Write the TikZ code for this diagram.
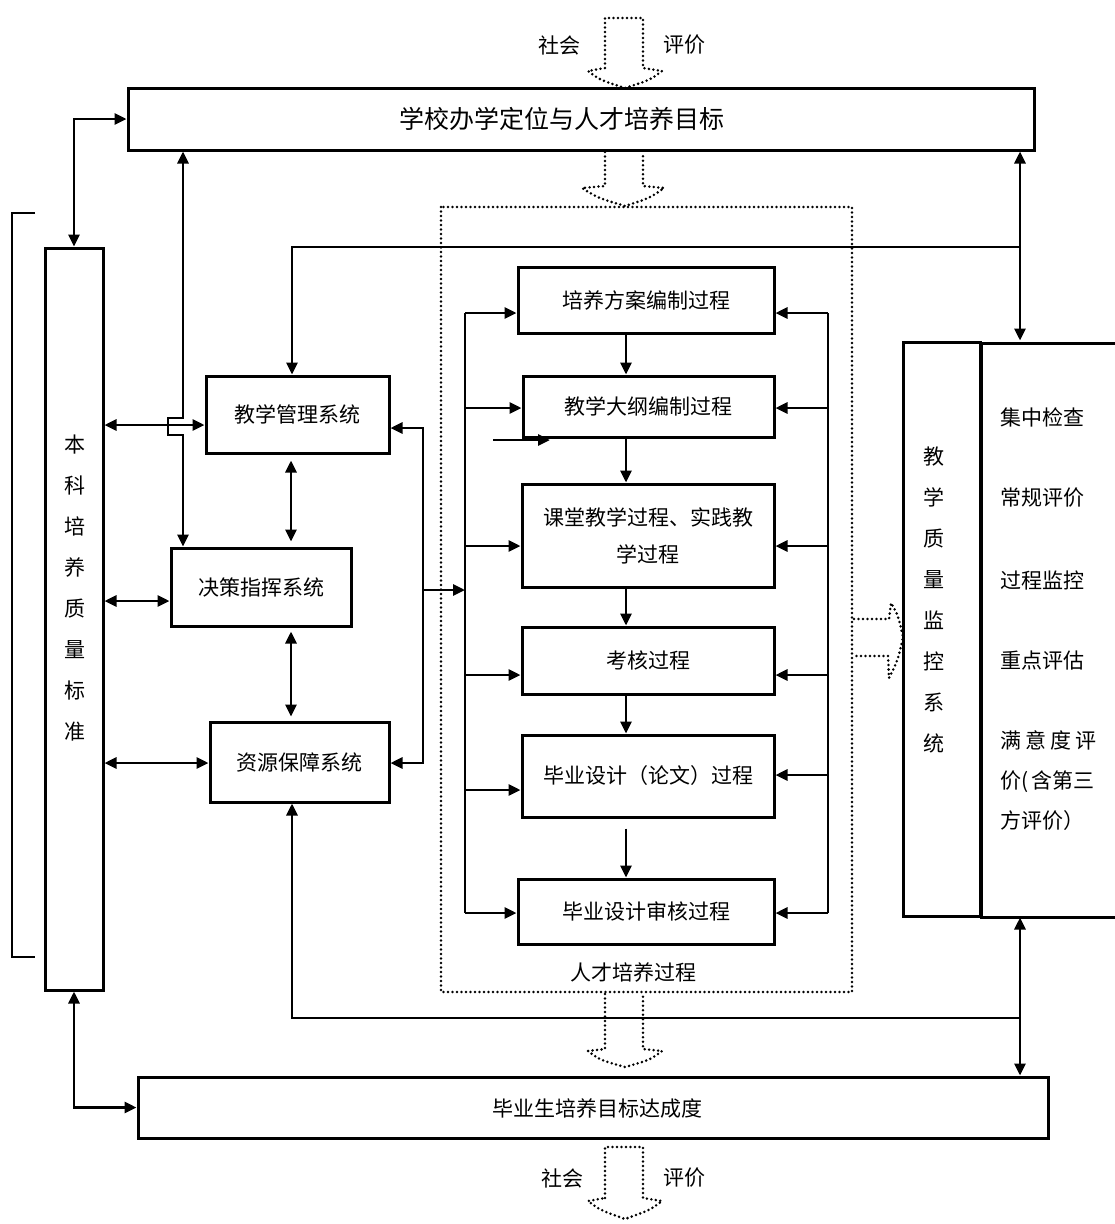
\documentclass[tikz,border=0pt]{standalone}
\usepackage{fontspec}
\setmainfont{Noto Sans CJK SC}
\usetikzlibrary{arrows.meta,calc}
\newcommand{\fsz}{\fontsize{21}{25}\selectfont}
\newcommand{\fbig}{\fontsize{25}{29}\selectfont}
\begin{document}
\begin{tikzpicture}[x=1pt,y=-1pt,
  box/.style={draw, line width=3pt, inner sep=0pt, font=\fsz, align=center},
  con/.style={line width=2.8pt},
  arr/.style={con, -{Triangle[length=12pt,width=11pt]}},
  darr/.style={con, {Triangle[length=12pt,width=11pt]}-{Triangle[length=12pt,width=11pt]}},
  hollow/.style={line width=2.8pt, dash pattern=on 0pt off 4.5pt, line cap=round, line join=round},
  lbl/.style={font=\fsz, inner sep=0pt}]
\useasboundingbox (0,0) rectangle (1115,1224);

% ---------- main boxes ----------
\node[box, minimum width=906pt, minimum height=62pt] (top) at (581,119) {};
\node[lbl, font=\fbig] (toptext) at (562,119) {学校办学定位与人才培养目标};
\node[box, minimum width=910pt, minimum height=61pt] (bot) at (593,1107.5) {};
\node[lbl] (bottext) at (597,1108) {毕业生培养目标达成度};
\node[box, minimum width=58pt, minimum height=742pt] (std) at (74,619) {};
\node[lbl, align=center, font=\fontsize{21}{41}\selectfont] (stdtext) at (75,588) {本\\科\\培\\养\\质\\量\\标\\准};

\node[box, minimum width=183pt, minimum height=77pt] (mgmt) at (297.5,414.5) {教学管理系统};
\node[box, minimum width=180pt, minimum height=78pt] (dec) at (261,587) {决策指挥系统};
\node[box, minimum width=179pt, minimum height=80pt] (res) at (299.5,762) {资源保障系统};

% dotted process frame
\draw[line width=2.6pt, dash pattern=on 0pt off 4.5pt, line cap=round] (441,207) rectangle (852,992);
\node[lbl] (proc) at (633,972) {人才培养过程};

\node[box, minimum width=256pt, minimum height=66pt] (p1) at (646,300) {培养方案编制过程};
\node[box, minimum width=251pt, minimum height=61pt] (p2) at (648.5,406.5) {教学大纲编制过程};
\node[box, minimum width=252pt, minimum height=103pt, font=\fontsize{21}{37}\selectfont] (p3) at (648,535.5) {课堂教学过程、实践教\\学过程};
\node[box, minimum width=252pt, minimum height=67pt] (p4) at (648,660.5) {考核过程};
\node[box, minimum width=252pt, minimum height=82pt] (p5) at (648,776) {毕业设计（论文）过程};
\node[box, minimum width=256pt, minimum height=65pt] (p6) at (646,911.5) {毕业设计审核过程};

% monitoring system
\node[box, minimum width=77pt, minimum height=574pt] (mon) at (941.5,629) {};
\node[lbl, align=center, font=\fontsize{21}{41}\selectfont] (montext) at (934,600) {教\\学\\质\\量\\监\\控\\系\\统};
\node[box, anchor=north west, minimum width=220pt, minimum height=574pt] (monr) at (980,342) {};
\node[lbl, anchor=west] (m1) at (1000,417) {集中检查};
\node[lbl, anchor=west] (m2) at (1000,498) {常规评价};
\node[lbl, anchor=west] (m3) at (1000,580) {过程监控};
\node[lbl, anchor=west] (m4) at (1000,661) {重点评估};
\node[lbl, anchor=north west, align=left, font=\fontsize{21}{40}\selectfont] (m5) at (1000,730) {满\hspace{4pt}意\hspace{4pt}度\hspace{4pt}评\\价(\,含第三\\方评价）};

% social evaluation labels
\node[lbl] (s1) at (559,45) {社会};
\node[lbl] (e1) at (684,45) {评价};
\node[lbl] (s2) at (562,1178) {社会};
\node[lbl] (e2) at (684,1178) {评价};

% left bracket
\draw[line width=2.8pt] (35,213) -- (12,213) -- (12,957) -- (35,957);

% ---------- hollow dotted arrows ----------
\draw[hollow] (605,68) -- (605,18) -- (643,18) -- (643,68) -- (662,71) .. controls (650,80) .. (625,88) .. controls (600,80) .. (588,71) -- cycle;
\draw[hollow] (605,152) -- (605,186) -- (582,188) .. controls (598,198) .. (625,206) .. controls (650,198) .. (664,188) -- (643,186) -- (643,152);
\draw[hollow] (605,994) -- (605,1049) -- (588,1051) .. controls (600,1060) .. (625,1067) .. controls (650,1060) .. (662,1051) -- (643,1049) -- (643,994);
\draw[hollow] (605,1198) -- (605,1147) -- (643,1147) -- (643,1198) -- (662,1201) .. controls (650,1210) .. (625,1219) .. controls (600,1210) .. (588,1201) -- cycle;
\draw[hollow] (854,619) -- (889,619) -- (891,603) .. controls (898,615) .. (903,637) .. controls (898,660) .. (889,678) -- (888,656) -- (854,656);

% ---------- connectors ----------
\coordinate (bx) at (183,0);
\coordinate (vx) at (291,0);
\coordinate (lx) at (292,0);
\coordinate (rx) at (1020,0);
\coordinate (kx) at (423,0);
\coordinate (lb) at (465,0);
\coordinate (rb) at (828,0);
\coordinate (cx) at (626,0);

\draw[darr] (top.west) -| (std.north);
\draw[darr] (std.south) |- (bot.west);

\draw[darr] (top.south -| bx) -- (183,418) -- (168,418) -- (168,435) -- (183,435) -- (dec.north -| bx);

\draw[darr] (std.east |- 0,425) -- (mgmt.west |- 0,425);
\draw[darr] (std.east |- 0,601) -- (dec.west |- 0,601);
\draw[darr] (std.east |- 0,763) -- (res.west |- 0,763);

\draw[darr, shorten <=6pt, shorten >=5pt] (mgmt.south -| vx) -- (dec.north -| vx);
\draw[darr, shorten <=4pt, shorten >=4pt] (dec.south -| vx) -- (res.north -| vx);

\draw[darr] (mgmt.east |- 0,428) -| (kx |- 0,590) |- (res.east |- 0,763);
\draw[arr] (kx |- 0,590) -- (lb |- 0,590);

% left bus
\draw[con] (lb |- 0,313) -- (lb |- 0,913);
\draw[arr] (lb |- 0,313) -- (p1.west |- 0,313);
\draw[arr] (lb |- 0,408) -- (p2.west |- 0,408);
\draw[arr] (lb |- 0,546) -- (p3.west |- 0,546);
\draw[arr] (lb |- 0,675) -- (p4.west |- 0,675);
\draw[arr] (lb |- 0,790) -- (p5.west |- 0,790);
\draw[arr] (lb |- 0,913) -- (p6.west |- 0,913);
\coordinate (st) at (493,440);
\draw[arr] (st) -- (550,440);

% right bus
\draw[con] (rb |- 0,313) -- (rb |- 0,913);
\draw[arr] (rb |- 0,313) -- (p1.east |- 0,313);
\draw[arr] (rb |- 0,408) -- (p2.east |- 0,408);
\draw[arr] (rb |- 0,546) -- (p3.east |- 0,546);
\draw[arr] (rb |- 0,675) -- (p4.east |- 0,675);
\draw[arr] (rb |- 0,775) -- (p5.east |- 0,775);
\draw[arr] (rb |- 0,913) -- (p6.east |- 0,913);

% process chain
\draw[arr] (p1.south -| cx) -- (p2.north -| cx);
\draw[arr] (p2.south -| cx) -- (p3.north -| cx);
\draw[arr] (p3.south -| cx) -- (p4.north -| cx);
\draw[arr] (p4.south -| cx) -- (p5.north -| cx);
\draw[arr, shorten <=10pt] (p5.south -| cx) -- (p6.north -| cx);

% monitoring links
\draw[arr] (rx |- 0,247) -- (lx |- 0,247) -- (mgmt.north -| lx);
\draw[darr] (top.south -| rx) -- (mon.north -| rx);
\draw[arr] (rx |- 0,1018) -- (lx |- 0,1018) -- (res.south -| lx);
\draw[darr] (mon.south -| rx) -- (bot.north -| rx);
\end{tikzpicture}
\end{document}
